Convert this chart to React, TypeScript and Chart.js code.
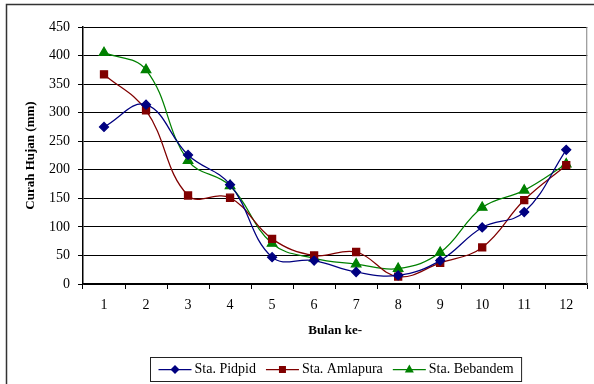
import React, { useEffect, useRef } from "react";
import { Chart, registerables } from "chart.js";

Chart.register(...registerables);

const months = ["1", "2", "3", "4", "5", "6", "7", "8", "9", "10", "11", "12"];
const pidpid = [275, 314, 226, 174, 47, 41, 21, 15, 41, 99, 126, 235];
const amlapura = [367, 304, 155, 151, 79, 50, 56, 13, 37, 64, 147, 208];
const bebandem = [405, 375, 216, 172, 71, 45, 35, 27, 55, 134, 164, 210];
const seriesNames = ["Sta. Pidpid", "Sta. Amlapura", "Sta. Bebandem"];
const yTicks = [0, 50, 100, 150, 200, 250, 300, 350, 400, 450];

const FONT = '"Liberation Serif", "Times New Roman", serif';

function drawMarker(ctx: CanvasRenderingContext2D, style: string, x: number, y: number, color: string) {
  ctx.fillStyle = color;
  ctx.beginPath();
  if (style === "rectRot") {
    const r = 4.5;
    ctx.moveTo(x, y - r);
    ctx.lineTo(x + r, y);
    ctx.lineTo(x, y + r);
    ctx.lineTo(x - r, y);
    ctx.closePath();
  } else if (style === "rect") {
    ctx.rect(x - 3.5, y - 3.5, 7, 7);
  } else {
    const r = 5;
    ctx.moveTo(x, y - r);
    ctx.lineTo(x + r * 0.9, y + r * 0.6);
    ctx.lineTo(x - r * 0.9, y + r * 0.6);
    ctx.closePath();
  }
  ctx.fill();
}

const framePlugin = {
  id: "frame",
  beforeDraw(chart: any) {
    const ctx = chart.ctx;
    ctx.save();
    ctx.fillStyle = "#fff";
    ctx.fillRect(0, 0, chart.width, chart.height);
    ctx.restore();
  },
  afterDraw(chart: any) {
    const ctx: CanvasRenderingContext2D = chart.ctx;
    const ca = chart.chartArea;
    ctx.save();
    // outer frame
    ctx.strokeStyle = "#333";
    ctx.lineWidth = 1.5;
    ctx.beginPath();
    ctx.moveTo(6.5, chart.height + 2);
    ctx.lineTo(6.5, 4.5);
    ctx.lineTo(chart.width + 2, 4.5);
    ctx.stroke();
    // plot area right border
    ctx.strokeStyle = "#808080";
    ctx.lineWidth = 1;
    ctx.beginPath();
    ctx.moveTo(ca.right - 0.5, ca.top);
    ctx.lineTo(ca.right - 0.5, ca.bottom);
    ctx.stroke();

    // legend
    ctx.font = "14px " + FONT;
    ctx.textBaseline = "middle";
    ctx.textAlign = "left";
    const lineLen = 33, gapText = 3, gapItem = 10, padX = 8;
    const items = chart.data.datasets.map((ds: any) => ({
      label: ds.label,
      color: ds.borderColor,
      style: ds.pointStyle,
      w: ctx.measureText(ds.label).width,
    }));
    let total = padX * 2 + gapItem * (items.length - 1);
    items.forEach((it: any) => (total += lineLen + gapText + it.w));
    const cx = (ca.left + ca.right) / 2;
    const boxLeft = Math.round(cx - total / 2) + 0.5;
    const boxTop = Math.round(ca.bottom + 73) + 0.5;
    const boxH = 24;
    ctx.strokeStyle = "#222";
    ctx.lineWidth = 1;
    ctx.strokeRect(boxLeft, boxTop, total, boxH);
    const my = boxTop + boxH / 2;
    let x = boxLeft + padX;
    items.forEach((it: any) => {
      ctx.strokeStyle = it.color;
      ctx.lineWidth = 1.25;
      ctx.beginPath();
      ctx.moveTo(x, my);
      ctx.lineTo(x + lineLen, my);
      ctx.stroke();
      drawMarker(ctx, it.style, x + lineLen / 2, my, it.color);
      ctx.fillStyle = "#000";
      ctx.fillText(it.label, x + lineLen + gapText, my);
      x += lineLen + gapText + it.w + gapItem;
    });
    ctx.restore();
  },
};

export default function App() {
  const ref = useRef<HTMLCanvasElement | null>(null);
  useEffect(() => {
    if (!ref.current) return;
    const mk = (label: string, data: number[], color: string, style: string, radius: number) => ({
      label,
      data,
      borderColor: color,
      backgroundColor: color,
      pointBackgroundColor: color,
      pointBorderColor: color,
      pointStyle: style,
      pointRadius: radius,
      borderWidth: 1.25,
      tension: 0.4,
      fill: false,
    });
    const chart = new Chart(ref.current, {
      type: "line",
      data: {
        labels: months,
        datasets: [
          mk(seriesNames[0], pidpid, "#000080", "rectRot", 4.5),
          mk(seriesNames[1], amlapura, "#800000", "rect", 5),
          mk(seriesNames[2], bebandem, "#008000", "triangle", 5.5),
        ],
      },
      options: {
        animation: false,
        responsive: false,
        maintainAspectRatio: false,
        devicePixelRatio: 1,
        layout: { padding: { left: 0, right: 6, top: 27, bottom: 46 } },
        plugins: {
          legend: { display: false },
          tooltip: { enabled: false },
          title: { display: false },
        },
        scales: {
          x: {
            type: "category",
            offset: true,
            grid: {
              offset: true,
              drawOnChartArea: false,
              drawTicks: true,
              tickLength: 5,
              color: "#000",
            },
            border: { color: "#000", width: 1.5 },
            ticks: {
              color: "#000",
              font: { family: FONT, size: 14 },
              padding: 8,
              maxRotation: 0,
              autoSkip: false,
            },
            title: {
              display: true,
              text: "Bulan ke-",
              color: "#000",
              font: { family: FONT, size: 13, weight: "bold" },
              padding: { top: 0, bottom: 0 },
            },
            afterFit: (s: any) => {
              s.height = 54;
            },
          },
          y: {
            min: 0,
            max: 450,
            afterBuildTicks: (s: any) => {
              s.ticks = yTicks.map((v) => ({ value: v }));
            },
            grid: {
              color: "#000",
              lineWidth: 1,
              drawTicks: true,
              tickLength: 5,
            },
            border: { color: "#000", width: 1.5 },
            ticks: {
              color: "#000",
              font: { family: FONT, size: 14 },
              padding: 8,
            },
            title: {
              display: true,
              text: "Curah Hujan (mm)",
              color: "#000",
              font: { family: FONT, size: 13, weight: "bold" },
              padding: { top: 23, bottom: 0 },
            },
            afterFit: (s: any) => {
              s.width = 83;
            },
          },
        },
      },
      plugins: [framePlugin],
    });
    return () => chart.destroy();
  }, []);
  return (
    <div style={{ position: "fixed", left: 0, top: 0, width: 594, height: 384, background: "#fff" }}>
      <canvas ref={ref} width={594} height={384} style={{ width: 594, height: 384, display: "block" }} />
    </div>
  );
}
